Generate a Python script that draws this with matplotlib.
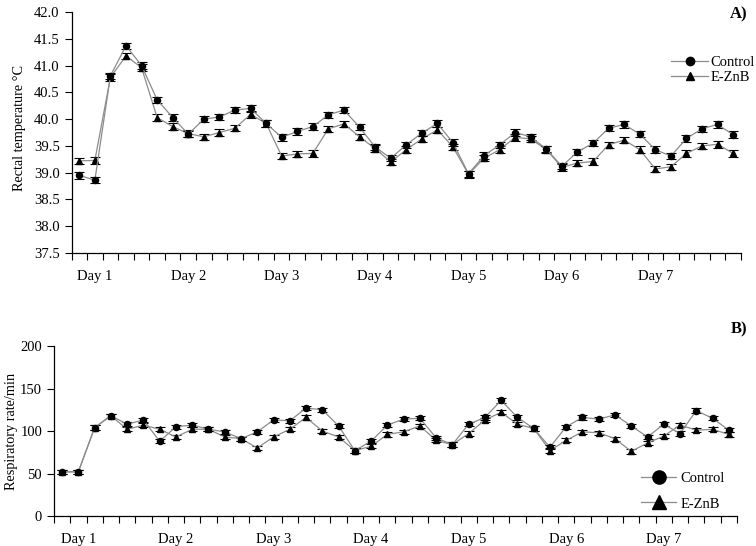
import matplotlib
matplotlib.use("Agg")
import matplotlib.pyplot as plt
from matplotlib.lines import Line2D
import numpy as np

plt.rcParams['font.family'] = ['Liberation Serif', 'DejaVu Serif']

day_labels = ["Day 1", "Day 2", "Day 3", "Day 4", "Day 5", "Day 6", "Day 7"]

temp_control = [38.95, 38.86, 40.81, 41.37, 41.00, 40.36, 40.03, 39.72, 40.00, 40.04,
                40.17, 40.20, 39.92, 39.66, 39.77, 39.86, 40.08, 40.17, 39.85, 39.48,
                39.27, 39.52, 39.74, 39.92, 39.56, 38.98, 39.32, 39.52, 39.75, 39.67,
                39.44, 39.12, 39.39, 39.55, 39.83, 39.90, 39.72, 39.43, 39.31, 39.64,
                39.82, 39.90, 39.71]
temp_eznb = [39.22, 39.23, 40.78, 41.18, 40.96, 40.03, 39.86, 39.73, 39.67, 39.75,
             39.83, 40.09, 39.92, 39.31, 39.35, 39.36, 39.82, 39.91, 39.67, 39.45,
             39.20, 39.43, 39.63, 39.80, 39.48, 38.97, 39.27, 39.43, 39.66, 39.63,
             39.43, 39.10, 39.18, 39.21, 39.52, 39.61, 39.43, 39.07, 39.11, 39.36,
             39.50, 39.53, 39.36]
temp_err = 0.06

resp_control = [52, 52, 104, 118, 108, 113, 88, 105, 107, 102,
                99, 91, 99, 113, 112, 127, 125, 106, 77, 88,
                107, 114, 115, 92, 84, 108, 116, 136, 116, 103,
                81, 105, 116, 114, 119, 106, 93, 108, 97, 124,
                115, 101]
resp_eznb = [52, 52, 104, 118, 102, 107, 102, 93, 102, 102,
             93, 91, 80, 93, 102, 116, 100, 93, 77, 82,
             96, 99, 106, 89, 84, 97, 113, 122, 108, 103,
             77, 89, 99, 98, 91, 76, 86, 94, 107, 101,
             102, 96]
resp_err = 2.5

fig = plt.figure(figsize=(7.56, 5.46), dpi=100)
ax1 = fig.add_axes([0.0946, 0.5366, 0.8855, 0.4414])
ax2 = fig.add_axes([0.0714, 0.0549, 0.9034, 0.3114])

line_col = '#8c8c8c'

def draw(ax, ctrl, ezn, err, ms):
    n = len(ctrl)
    x = np.arange(n)
    ax.errorbar(x, ezn, yerr=err, color=line_col, lw=0.9, marker='^', ms=ms,
                mfc='black', mec='black', ecolor='black', elinewidth=0.8,
                capsize=3.5, capthick=0.8, zorder=3)
    ax.errorbar(x, ctrl, yerr=err, color=line_col, lw=0.9, marker='o', ms=ms,
                mfc='black', mec='black', ecolor='black', elinewidth=0.8,
                capsize=3.5, capthick=0.8, zorder=4)
    ax.set_xlim(-0.5, n - 0.5)
    ax.set_xticks(np.arange(-0.5, n, 1.0))
    ax.set_xticklabels([])
    ax.tick_params(axis='x', which='major', direction='out', length=5, width=0.8, color='black')
    pos = [1 + 6 * i for i in range(len(day_labels))]
    ax.set_xticks(pos, minor=True)
    ax.set_xticklabels(day_labels, minor=True, fontsize=10.5)
    ax.tick_params(axis='x', which='minor', length=0, pad=12)
    ax.tick_params(axis='y', direction='out', length=5, width=0.8, labelsize=10.5)
    for s in ['top', 'right']:
        ax.spines[s].set_visible(False)
    for s in ['left', 'bottom']:
        ax.spines[s].set_linewidth(0.9)

draw(ax1, temp_control, temp_eznb, temp_err, 4.4)
ax1.set_ylim(37.5, 42.0)
ax1.set_yticks(np.arange(37.5, 42.01, 0.5))
ax1.set_yticklabels([f"{v:.1f}" for v in np.arange(37.5, 42.01, 0.5)])
ax1.set_ylabel("Rectal temperature °C", fontsize=10.3)
ax1.yaxis.set_label_coords(-0.068, 0.52)

draw(ax2, resp_control, resp_eznb, resp_err, 4.4)
ax2.set_ylim(0, 200)
ax2.set_yticks([0, 50, 100, 150, 200])
ax2.set_ylabel("Respiratory rate/min", fontsize=10.3, labelpad=1.5)

fig.text(0.989, 0.988, "A)", fontsize=12, fontweight='bold', ha='right', va='top')
fig.text(0.988, 0.412, "B)", fontsize=12, fontweight='bold', ha='right', va='top')

h1 = [Line2D([0], [0], color=line_col, lw=0.9, marker='o', ms=6, mfc='black', mec='black'),
      Line2D([0], [0], color=line_col, lw=0.9, marker='^', ms=6, mfc='black', mec='black')]
fig.legend(h1, ["Control", "E-ZnB"], loc='upper left', bbox_to_anchor=(0.888, 0.898),
           frameon=False, fontsize=10.5, handlelength=2.5, handletextpad=0.2,
           labelspacing=0.15, borderpad=0, borderaxespad=0)

h2 = [Line2D([0], [0], color=line_col, lw=0.9, marker='o', ms=9.5, mfc='black', mec='black'),
      Line2D([0], [0], color=line_col, lw=0.9, marker='^', ms=9.5, mfc='black', mec='black')]
fig.legend(h2, ["Control", "E-ZnB"], loc='upper left', bbox_to_anchor=(0.848, 0.136),
           frameon=False, fontsize=10.5, handlelength=2.4, handletextpad=0.3,
           labelspacing=0.85, borderpad=0, borderaxespad=0)

fig.savefig("out.png", dpi=100)
